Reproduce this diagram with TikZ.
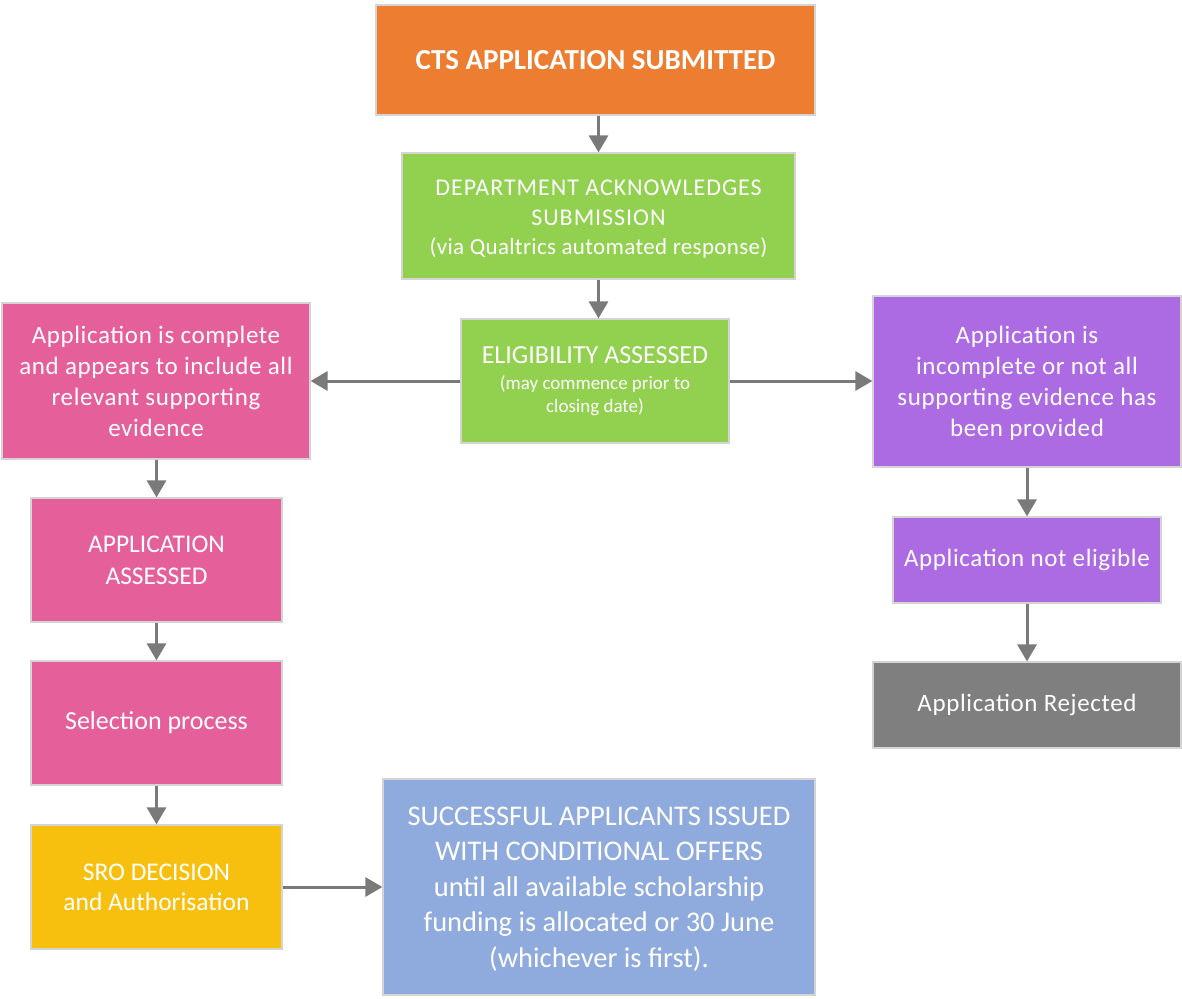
\documentclass[tikz,border=0pt]{standalone}
\usepackage{fontspec}
\setmainfont{Carlito}
\newfontfamily\spaced[LetterSpace=2.5]{Carlito}
\newfontfamily\lsA[LetterSpace=4]{Carlito}
\newfontfamily\lsB[LetterSpace=1.5]{Carlito}
\usetikzlibrary{arrows.meta}
\definecolor{corange}{HTML}{ED7D31}
\definecolor{cgreen}{HTML}{92D050}
\definecolor{cpink}{HTML}{E5609A}
\definecolor{cpurple}{HTML}{AD6BE3}
\definecolor{cgrey}{HTML}{7F7F7F}
\definecolor{cyellow}{HTML}{F8C00E}
\definecolor{cblue}{HTML}{8FAADC}
\definecolor{cborder}{HTML}{D4D4D4}
\definecolor{carrow}{HTML}{7A7A7A}
\tikzset{
  box/.style={draw=cborder, line width=1.2pt, text=white, align=center, inner sep=0pt, anchor=center},
  txt/.style={text=white, align=center, inner sep=0pt, anchor=center},
  arr/.style={draw=carrow, line width=3pt, -{Triangle[width=19pt,length=17pt]}},
}
\newcommand{\fs}[2]{\fontsize{#1}{#2}\selectfont}
\begin{document}
\begin{tikzpicture}[x=1pt,y=-1pt]
\useasboundingbox (0,0) rectangle (1182,998);
\node[box, fill=corange, minimum width=439pt, minimum height=110pt, font={\fs{29}{35}\bfseries}] (A) at (595.5,60)
  {CTS APPLICATION SUBMITTED};
\node[box, fill=cgreen, minimum width=393pt, minimum height=126pt] (B) at (598.5,216) {};
\node[txt, font={\lsA\fs{24}{29.5}}] (Bt) at (598.5,219.5)
  {DEPARTMENT ACKNOWLEDGES\\ SUBMISSION\\ {\lsB\fs{23}{29.5}(via Qualtrics automated response)}};
\node[box, fill=cgreen, minimum width=268pt, minimum height=124pt, font={\fs{19}{23}}] (C) at (595,381)
  {{\fs{26}{30}ELIGIBILITY ASSESSED}\\[3pt] (may commence prior to\\ closing date)};
\node[box, fill=cpink, minimum width=308pt, minimum height=156pt, font={\spaced\fs{25}{31}}] (D) at (156,381)
  {Application is complete\\ and appears to include all\\ relevant supporting\\ evidence};
\node[box, fill=cpink, minimum width=251pt, minimum height=124pt, font={\fs{25.5}{32}}] (E) at (156.5,560)
  {APPLICATION\\ ASSESSED};
\node[box, fill=cpink, minimum width=251pt, minimum height=124pt, font={\fs{26}{30}}] (F) at (156.5,723)
  {Selection process};
\node[box, fill=cyellow, minimum width=251pt, minimum height=124pt, font={\fs{25.5}{30}}] (G) at (156.5,887)
  {SRO DECISION\\ and Authorisation};
\node[box, fill=cblue, minimum width=432pt, minimum height=216pt] (H) at (599,887) {};
\node[txt, font={\fs{28.5}{35.5}}] (Ht) at (599,889)
  {SUCCESSFUL APPLICANTS ISSUED\\ WITH CONDITIONAL OFFERS\\ until all available scholarship\\ funding is allocated or 30 June\\ (whichever is first).};
\node[box, fill=cpurple, minimum width=308pt, minimum height=171pt] (I) at (1027,381.5) {};
\node[txt, font={\spaced\fs{25}{31}}] (It) at (1027,383)
  {Application is\\ incomplete or not all\\ supporting evidence has\\ been provided};
\node[box, fill=cpurple, minimum width=268pt, minimum height=86pt, font={\spaced\fs{25}{30}}] (J) at (1027,560)
  {Application not eligible};
\node[box, fill=cgrey, minimum width=308pt, minimum height=86pt, font={\spaced\fs{25}{30}}] (K) at (1027,705)
  {Application Rejected};
\draw[arr] (A.south -| B) -- (B.north);
\draw[arr] (B.south) -- (B.south |- C.north);
\draw[arr] (C.west) -- (D.east);
\draw[arr] (C.east) -- (I.west |- C.east);
\draw[arr] (D.south -| E) -- (E.north);
\draw[arr] (E.south) -- (F.north);
\draw[arr] (F.south) -- (G.north);
\draw[arr] (G.east) -- (H.west |- G.east);
\draw[arr] (I.south -| J) -- (J.north);
\draw[arr] (J.south) -- (K.north);
\end{tikzpicture}
\end{document}
